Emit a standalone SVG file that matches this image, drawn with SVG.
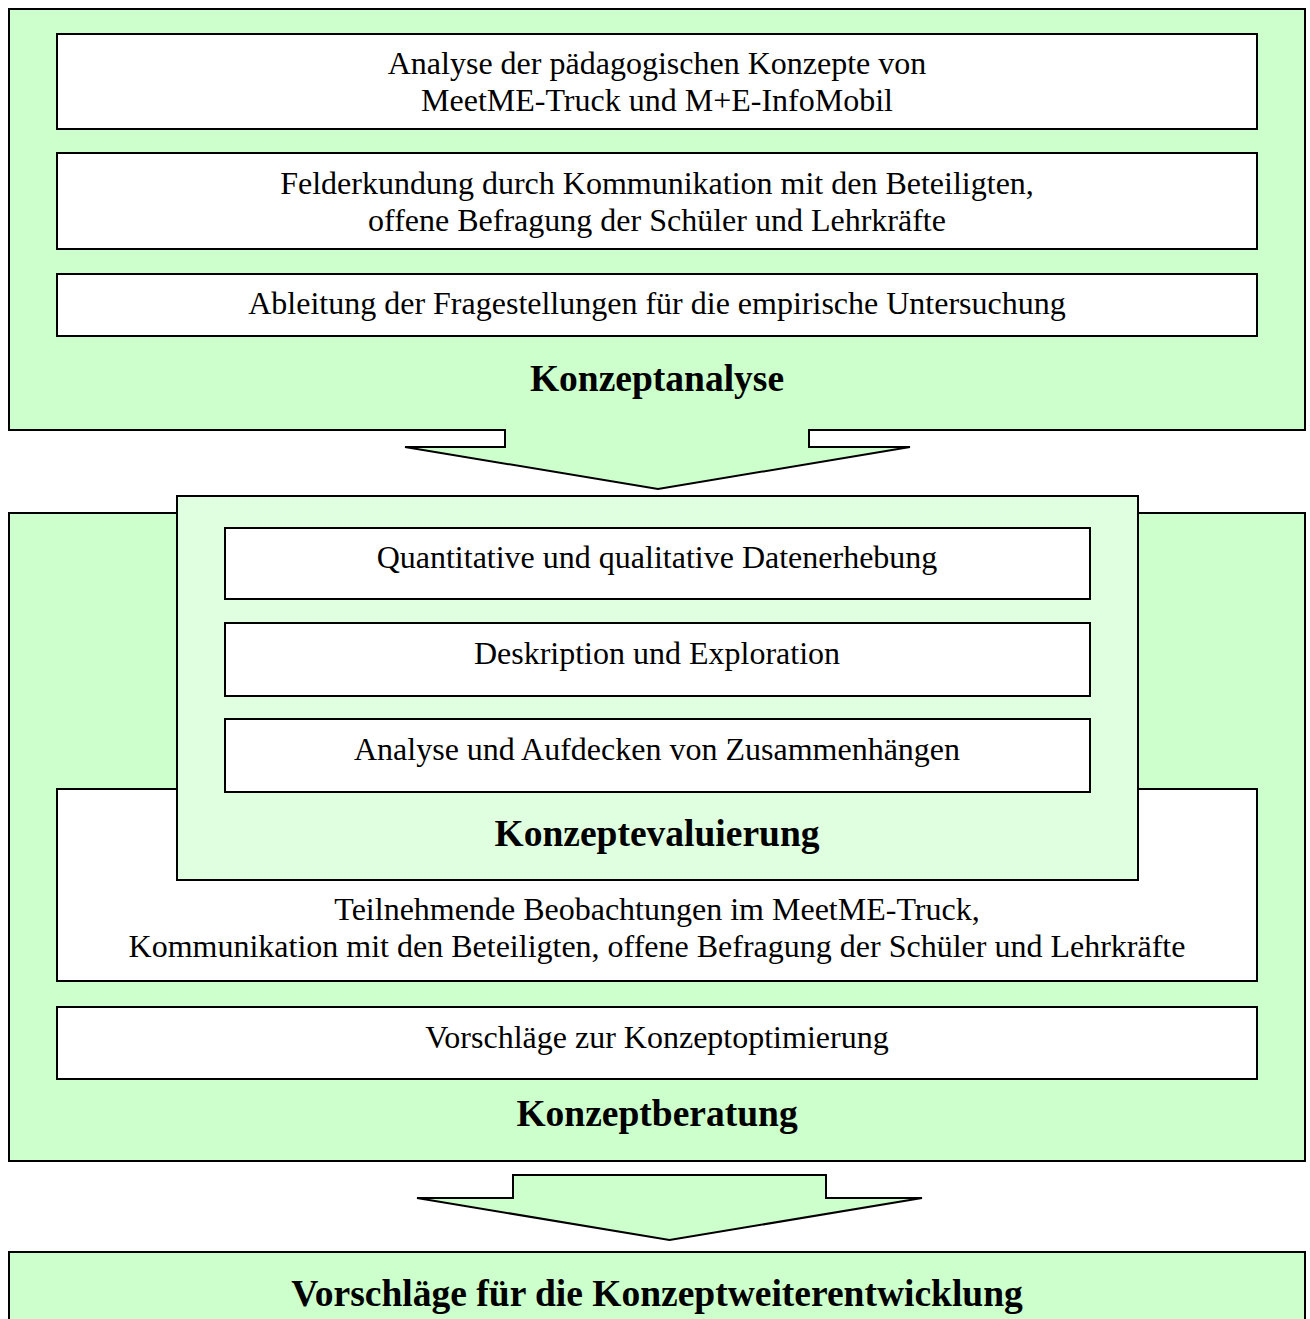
<svg xmlns="http://www.w3.org/2000/svg" width="1310" height="1319" viewBox="0 0 1310 1319">
<style>
.g{fill:#ccffcc;stroke:#000;stroke-width:2}
.l{fill:#e0ffe0;stroke:#000;stroke-width:2}
.w{fill:#fff;stroke:#000;stroke-width:2}
.t{font-family:"Liberation Serif","Times New Roman",serif;font-size:32px;text-anchor:middle;fill:#000}
.b{font-family:"Liberation Serif","Times New Roman",serif;font-size:37.5px;font-weight:bold;text-anchor:middle;fill:#000}
</style>
<rect width="1310" height="1319" fill="#fff"/>
<g id="konzeptanalyse">
<rect class="g" x="9" y="9" width="1296" height="421"/>
<text class="b" x="657" y="391">Konzeptanalyse</text>
</g>
<g id="connectors">
<path d="M505,430 L505,447 L405,447 L658,489 L910,447 L809,447 L809,430" fill="#ccffcc" stroke="#000" stroke-width="2" stroke-linejoin="miter"/>
<rect x="506" y="420" width="302" height="12" fill="#ccffcc"/>
</g>
<g id="a1"><rect class="w" x="57" y="34" width="1200" height="95"/>
<text class="t" x="657" y="74">Analyse der pädagogischen Konzepte von</text>
<text class="t" x="657" y="111">MeetME-Truck und M+E-InfoMobil</text></g>
<g id="a2"><rect class="w" x="57" y="153" width="1200" height="96"/>
<text class="t" x="657" y="194">Felderkundung durch Kommunikation mit den Beteiligten,</text>
<text class="t" x="657" y="231">offene Befragung der Schüler und Lehrkräfte</text></g>
<g id="a3"><rect class="w" x="57" y="274" width="1200" height="62"/>
<text class="t" x="657" y="314">Ableitung der Fragestellungen für die empirische Untersuchung</text></g>
<g id="konzeptberatung">
<rect class="g" x="9" y="513" width="1296" height="648"/>
<text class="b" x="657" y="1126">Konzeptberatung</text>
</g>
<g id="beobachtung"><rect class="w" x="57" y="789" width="1200" height="192"/>
<text class="t" x="657" y="920">Teilnehmende Beobachtungen im MeetME-Truck,</text>
<text class="t" x="657" y="957">Kommunikation mit den Beteiligten, offene Befragung der Schüler und Lehrkräfte</text></g>
<g id="optimierung"><rect class="w" x="57" y="1007" width="1200" height="72"/>
<text class="t" x="657" y="1048">Vorschläge zur Konzeptoptimierung</text></g>
<g id="konzeptevaluierung">
<rect class="l" x="177" y="496" width="961" height="384"/>
<text class="b" x="657" y="846">Konzeptevaluierung</text>
</g>
<g id="e1"><rect class="w" x="225" y="528" width="865" height="71"/>
<text class="t" x="657" y="568">Quantitative und qualitative Datenerhebung</text></g>
<g id="e2"><rect class="w" x="225" y="623" width="865" height="73"/>
<text class="t" x="657" y="664">Deskription und Exploration</text></g>
<g id="e3"><rect class="w" x="225" y="719" width="865" height="73"/>
<text class="t" x="657" y="760">Analyse und Aufdecken von Zusammenhängen</text></g>
<g id="connectors2">
<path d="M513,1175 L826,1175 L826,1198 L922,1198 L669.5,1240 L417,1198 L513,1198 Z" fill="#ccffcc" stroke="#000" stroke-width="2"/>
</g>
<g id="weiterentwicklung">
<rect class="g" x="9" y="1252" width="1296" height="80"/>
<text class="b" x="657" y="1306">Vorschläge für die Konzeptweiterentwicklung</text>
</g>
</svg>
